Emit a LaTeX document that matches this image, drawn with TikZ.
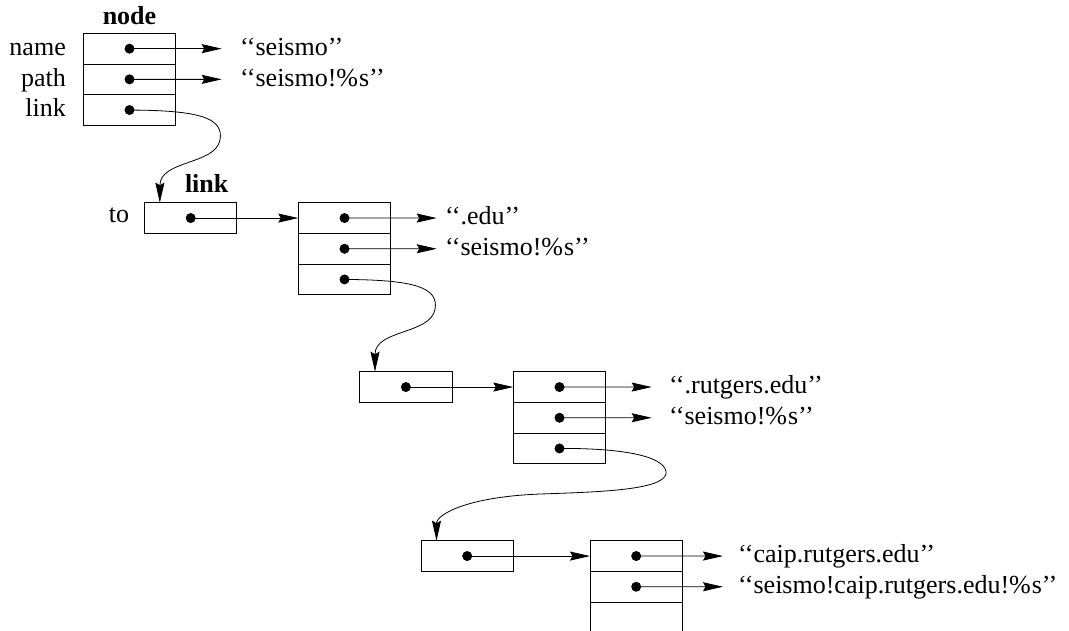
\documentclass[tikz,border=0pt]{standalone}
\usepackage{fontspec}
\setmainfont{Liberation Serif}
\usetikzlibrary{arrows.meta}
\begin{document}
\begin{tikzpicture}[x=1pt,y=-1pt,
  cell/.style={draw, line width=1pt, minimum width=92.4pt, minimum height=30.7pt, inner sep=0pt, outer sep=0pt},
  ghost/.style={minimum width=92.4pt, minimum height=30.7pt, inner sep=0pt, outer sep=0pt},
  ptr/.style={line width=0.8pt, -{Stealth[length=20pt,width=9pt,inset=2.5pt]}},
  dot/.style={circle, fill, inner sep=0pt, minimum size=10pt},
  txt/.style={font=\fontsize{26}{30}\selectfont, inner sep=0pt, anchor=base west},
  fld/.style={font=\fontsize{26}{30}\selectfont, inner sep=0pt, anchor=base east},
  ttl/.style={font=\fontsize{26}{30}\selectfont\bfseries, inner sep=0pt, anchor=base}
]
\useasboundingbox (0,0) rectangle (1069,630);

% ---- node record ----
\node[cell, anchor=north] (n1) at (129.5,33.3) {};
\node[cell, anchor=north] (n2) at (n1.south) {};
\node[cell, anchor=north] (n3) at (n2.south) {};
\node[dot] (dn1) at (n1.center) {};
\node[dot] (dn2) at (n2.center) {};
\node[dot] (dn3) at (n3.center) {};
\node[ttl] (tnode) at (129.5,24) {node};
\node[fld] (fname) at (66,55.2) {name};
\node[fld] (fpath) at (66,86) {path};
\node[fld] (flink) at (66,116.8) {link};
\coordinate (en1) at (221.7,48.65);
\coordinate (en2) at (221.7,79.35);
\draw[ptr] (dn1.center) -- (en1);
\draw[ptr] (dn2.center) -- (en2);
\node[txt] (sn1) at (240,55.2) {‘‘seismo’’};
\node[txt] (sn2) at (240,86) {‘‘seismo!\%\kern1pt s’’};

% ---- link 1 ----
\node[cell, anchor=north] (l1) at (190.7,202.7) {};
\node[dot] (dl1) at (l1.center) {};
\node[ttl] (tlink) at (206.7,192.7) {link};
\node[fld, anchor=base] (fto) at (119,222.5) {to};

% ---- list 2 ----
\node[cell, anchor=north] (a1) at (344.5,202.7) {};
\node[cell, anchor=north] (a2) at (a1.south) {};
\node[cell, anchor=north] (a3) at (a2.south) {};
\node[dot] (da1) at (a1.center) {};
\node[dot] (da2) at (a2.center) {};
\node[dot] (da3) at (a3.center) {};
\coordinate (ea1) at (436.7,218.05);
\coordinate (ea2) at (436.7,248.75);
\draw[ptr] (dl1.center) -- (a1.west);
\draw[ptr] (da1.center) -- (ea1);
\draw[ptr] (da2.center) -- (ea2);
\node[txt] (sa1) at (445,224.6) {‘‘.edu’’};
\node[txt] (sa2) at (445,255.3) {‘‘seismo!\%\kern1pt s’’};

% ---- link 3 ----
\node[cell, anchor=north] (l3) at (405.9,371.7) {};
\node[dot] (dl3) at (l3.center) {};

% ---- list 3 ----
\node[cell, anchor=north] (b1) at (559.5,371.7) {};
\node[cell, anchor=north] (b2) at (b1.south) {};
\node[cell, anchor=north] (b3) at (b2.south) {};
\node[dot] (db1) at (b1.center) {};
\node[dot] (db2) at (b2.center) {};
\node[dot] (db3) at (b3.center) {};
\coordinate (eb1) at (651.7,387.05);
\coordinate (eb2) at (651.7,417.75);
\draw[ptr] (dl3.center) -- (b1.west);
\draw[ptr] (db1.center) -- (eb1);
\draw[ptr] (db2.center) -- (eb2);
\node[txt] (sb1) at (669,393.6) {‘‘.rutgers.edu’’};
\node[txt] (sb2) at (669,424.3) {‘‘seismo!\%\kern1pt s’’};

% ---- link 4 ----
\node[cell, anchor=north] (l4) at (467.2,540.7) {};
\node[dot] (dl4) at (l4.center) {};

% ---- list 4 ----
\node[cell, anchor=north] (c1) at (636.2,540.7) {};
\node[cell, anchor=north] (c2) at (c1.south) {};
\node[ghost, anchor=north] (c3) at (c2.south) {};
\draw[line width=1pt] (c3.north west) -- (c3.south west);
\draw[line width=1pt] (c3.north east) -- (c3.south east);
\node[dot] (dc1) at (c1.center) {};
\node[dot] (dc2) at (c2.center) {};
\coordinate (ec1) at (723,556.05);
\coordinate (ec2) at (723,586.75);
\draw[ptr] (dl4.center) -- (c1.west);
\draw[ptr] (dc1.center) -- (ec1);
\draw[ptr] (dc2.center) -- (ec2);
\node[txt] (sc1) at (738,562.6) {‘‘caip.rutgers.edu’’};
\node[txt] (sc2) at (738,593.3) {‘‘seismo!caip.rutgers.edu!\%\kern1pt s’’};

% ---- link curves ----
\draw[ptr] (dn3.center) .. controls (200,110.3) and (224,118) .. (220,140)
  .. controls (215,165) and (160,160) .. ([xshift=15.3pt]l1.north west);
\draw[ptr] (da3.center) .. controls (415,279.8) and (439,287.5) .. (435,309.5)
  .. controls (430,334.5) and (375,329.5) .. ([xshift=15.3pt]l3.north west);
\draw[ptr] (db3.center) .. controls (630,448) and (668,458) .. (666,474)
  .. controls (662,490) and (600,492) .. (540,494)
  .. controls (465,497) and (436.5,515) .. ([xshift=15.5pt]l4.north west);
\end{tikzpicture}
\end{document}
